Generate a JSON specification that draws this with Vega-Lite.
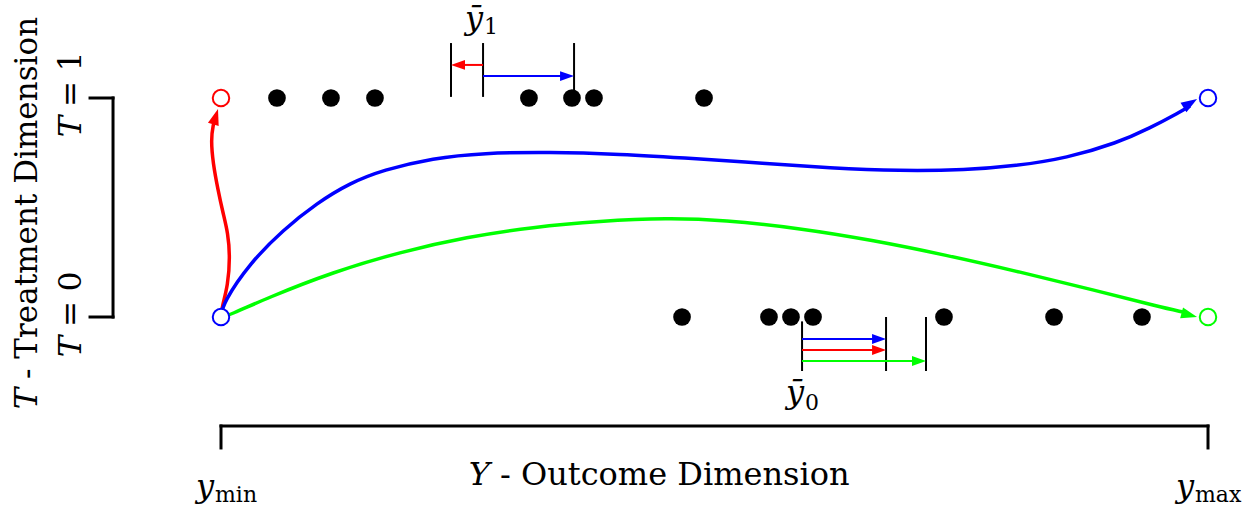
{
  "$schema": "https://vega.github.io/schema/vega-lite/v6.json",
  "width": 1254,
  "height": 509,
  "padding": 0,
  "autosize": {"type": "none"},
  "background": "white",
  "config": {"view": {"stroke": null}},
  "datasets": {
    "curves": [
      {"path": "T shift", "i": 1, "x": 0.0, "t": 0.0},
      {"path": "T shift", "i": 2, "x": 0.101, "t": 0.0457},
      {"path": "T shift", "i": 3, "x": 0.709, "t": 0.1461},
      {"path": "T shift", "i": 4, "x": 0.912, "t": 0.274},
      {"path": "T shift", "i": 5, "x": 0.709, "t": 0.3836},
      {"path": "T shift", "i": 6, "x": 0.203, "t": 0.4749},
      {"path": "T shift", "i": 7, "x": -0.304, "t": 0.5799},
      {"path": "T shift", "i": 8, "x": -0.811, "t": 0.7032},
      {"path": "T shift", "i": 9, "x": -1.013, "t": 0.8082},
      {"path": "T shift", "i": 10, "x": -0.811, "t": 0.8767},
      {"path": "T shift", "i": 11, "x": -0.507, "t": 0.9224},
      {"path": "both", "i": 1, "x": 0.0, "t": 0.0},
      {"path": "both", "i": 2, "x": 0.203, "t": 0.0639},
      {"path": "both", "i": 3, "x": 2.938, "t": 0.2466},
      {"path": "both", "i": 4, "x": 6.282, "t": 0.3973},
      {"path": "both", "i": 5, "x": 9.726, "t": 0.5205},
      {"path": "both", "i": 6, "x": 13.07, "t": 0.6119},
      {"path": "both", "i": 7, "x": 16.41, "t": 0.6712},
      {"path": "both", "i": 8, "x": 21.48, "t": 0.726},
      {"path": "both", "i": 9, "x": 26.55, "t": 0.7489},
      {"path": "both", "i": 10, "x": 33.33, "t": 0.7534},
      {"path": "both", "i": 11, "x": 40.12, "t": 0.7443},
      {"path": "both", "i": 12, "x": 48.53, "t": 0.7215},
      {"path": "both", "i": 13, "x": 54.71, "t": 0.7032},
      {"path": "both", "i": 14, "x": 61.7, "t": 0.6804},
      {"path": "both", "i": 15, "x": 68.79, "t": 0.6667},
      {"path": "both", "i": 16, "x": 75.5, "t": 0.6712},
      {"path": "both", "i": 17, "x": 80.5, "t": 0.6895},
      {"path": "both", "i": 18, "x": 85.71, "t": 0.7260},
      {"path": "both", "i": 19, "x": 90.78, "t": 0.7945},
      {"path": "both", "i": 20, "x": 94.12, "t": 0.8630},
      {"path": "both", "i": 21, "x": 97.16, "t": 0.9361},
      {"path": "both", "i": 22, "x": 98.18, "t": 0.9635},
      {"path": "Y shift", "i": 1, "x": 0.0, "t": 0.0},
      {"path": "Y shift", "i": 2, "x": 0.912, "t": 0.0091},
      {"path": "Y shift", "i": 3, "x": 4.661, "t": 0.0868},
      {"path": "Y shift", "i": 4, "x": 11.35, "t": 0.2055},
      {"path": "Y shift", "i": 5, "x": 18.14, "t": 0.2968},
      {"path": "Y shift", "i": 6, "x": 24.92, "t": 0.3653},
      {"path": "Y shift", "i": 7, "x": 31.61, "t": 0.411},
      {"path": "Y shift", "i": 8, "x": 38.4, "t": 0.4384},
      {"path": "Y shift", "i": 9, "x": 45.19, "t": 0.4521},
      {"path": "Y shift", "i": 10, "x": 50.96, "t": 0.4430},
      {"path": "Y shift", "i": 11, "x": 58.46, "t": 0.4064},
      {"path": "Y shift", "i": 12, "x": 65.96, "t": 0.3516},
      {"path": "Y shift", "i": 13, "x": 73.45, "t": 0.2831},
      {"path": "Y shift", "i": 14, "x": 80.95, "t": 0.2055},
      {"path": "Y shift", "i": 15, "x": 88.45, "t": 0.1233},
      {"path": "Y shift", "i": 16, "x": 95.14, "t": 0.0457},
      {"path": "Y shift", "i": 17, "x": 97.47, "t": 0.0228}
    ],
    "bigheads": [
      {"path": "T shift", "x": -0.304, "t": 0.9498, "heading": -73},
      {"path": "both", "x": 98.89, "t": 0.9954, "heading": -32},
      {"path": "Y shift", "x": 98.89, "t": 0.0, "heading": 15}
    ],
    "smallheads": [
      {"path": "T shift", "x": 23.3, "t": 1.151, "heading": 180},
      {"path": "both", "x": 35.77, "t": 1.1, "heading": 0},
      {"path": "both", "x": 67.38, "t": -0.1005, "heading": 0},
      {"path": "T shift", "x": 67.38, "t": -0.1507, "heading": 0},
      {"path": "Y shift", "x": 71.43, "t": -0.2009, "heading": 0}
    ],
    "shifts": [
      {"path": "T shift", "x": 26.55, "x2": 23.8, "t": 1.151, "t2": 1.151},
      {"path": "both", "x": 26.55, "x2": 35.27, "t": 1.1, "t2": 1.1},
      {"path": "both", "x": 58.87, "x2": 66.88, "t": -0.1005, "t2": -0.1005},
      {"path": "T shift", "x": 58.87, "x2": 66.88, "t": -0.1507, "t2": -0.1507},
      {"path": "Y shift", "x": 58.87, "x2": 70.93, "t": -0.2009, "t2": -0.2009}
    ],
    "markers": [
      {"x": 23.3, "x2": 23.3, "t": 1.005, "t2": 1.251},
      {"x": 26.55, "x2": 26.55, "t": 1.005, "t2": 1.251},
      {"x": 35.77, "x2": 35.77, "t": 1.005, "t2": 1.251},
      {"x": 58.87, "x2": 58.87, "t": -0.02, "t2": -0.2466},
      {"x": 67.38, "x2": 67.38, "t": 0.0, "t2": -0.2466},
      {"x": 71.43, "x2": 71.43, "t": 0.0, "t2": -0.2466}
    ],
    "brackets": [
      {"x": 0, "x2": 100, "t": -0.4977, "t2": -0.4977},
      {"x": 0, "x2": 0, "t": -0.4977, "t2": -0.598},
      {"x": 100, "x2": 100, "t": -0.4977, "t2": -0.598},
      {"x": -10.94, "x2": -10.94, "t": 0, "t2": 1},
      {"x": -13.27, "x2": -10.94, "t": 0, "t2": 0},
      {"x": -13.27, "x2": -10.94, "t": 1, "t2": 1}
    ],
    "dots": [
      {"x": 5.67, "t": 1}, {"x": 11.14, "t": 1}, {"x": 15.6, "t": 1},
      {"x": 31.2, "t": 1}, {"x": 35.56, "t": 1}, {"x": 37.79, "t": 1},
      {"x": 48.94, "t": 1},
      {"x": 46.71, "t": 0}, {"x": 55.52, "t": 0}, {"x": 57.75, "t": 0},
      {"x": 59.98, "t": 0}, {"x": 73.25, "t": 0}, {"x": 84.4, "t": 0},
      {"x": 93.31, "t": 0}
    ],
    "ends": [
      {"path": "T shift", "x": 0, "t": 1},
      {"path": "both", "x": 0, "t": 0},
      {"path": "both", "x": 100, "t": 1},
      {"path": "Y shift", "x": 100, "t": 0}
    ],
    "labels": [
      {"role": "ital", "text": "Y", "x": 27.25, "t": -0.767},
      {"role": "ital", "text": "y", "x": -0.709, "t": -0.822},
      {"role": "ital", "text": "y", "x": 98.58, "t": -0.822},
      {"role": "ital", "text": "ȳ", "x": 26.55, "t": 1.315},
      {"role": "ital", "text": "ȳ", "x": 59.07, "t": -0.393},
      {"role": "roman", "text": "- Outcome Dimension", "x": 27.25, "t": -0.767},
      {"role": "sub", "text": "min", "x": -0.709, "t": -0.845},
      {"role": "sub", "text": "max", "x": 98.58, "t": -0.845},
      {"role": "sub", "text": "1", "x": 26.55, "t": 1.293},
      {"role": "sub", "text": "0", "x": 59.07, "t": -0.425},
      {"role": "rital", "text": "T", "x": -18.64, "t": -0.324},
      {"role": "rital", "text": "T", "x": -14.18, "t": 0.918},
      {"role": "rital", "text": "T", "x": -14.18, "t": -0.0868},
      {"role": "rroman", "text": "- Treatment Dimension", "x": -18.64, "t": -0.324},
      {"role": "rroman", "text": "= 1", "x": -14.18, "t": 0.918},
      {"role": "rroman", "text": "= 0", "x": -14.18, "t": -0.0868}
    ]
  },
  "encoding": {
    "x": {"field": "x", "type": "quantitative", "axis": null,
          "scale": {"domain": [-22.391, 104.66], "nice": false, "zero": false}},
    "y": {"field": "t", "type": "quantitative", "axis": null,
          "scale": {"domain": [-0.8767, 1.4475], "nice": false, "zero": false}}
  },
  "layer": [
    {
      "data": {"name": "curves"},
      "mark": {"type": "line", "strokeWidth": 3.5, "interpolate": "basis"},
      "encoding": {
        "color": {"field": "path", "type": "nominal", "legend": null,
                  "scale": {"domain": ["T shift", "both", "Y shift"], "range": ["#ff0000", "#0000ff", "#00ff00"]}},
        "order": {"field": "i", "type": "quantitative"}
      }
    },
    {
      "data": {"name": "bigheads"},
      "mark": {"type": "point", "shape": "M0,0L-2,-0.7L-2,0.7Z", "size": 256, "filled": true, "opacity": 1, "strokeWidth": 0},
      "encoding": {
        "color": {"field": "path", "type": "nominal", "legend": null,
                  "scale": {"domain": ["T shift", "both", "Y shift"], "range": ["#ff0000", "#0000ff", "#00ff00"]}},
        "angle": {"field": "heading", "type": "quantitative", "scale": null}
      }
    },
    {
      "data": {"name": "brackets"},
      "mark": {"type": "rule", "strokeWidth": 3, "color": "black", "strokeCap": "square"},
      "encoding": {
        "x2": {"field": "x2"},
        "y2": {"field": "t2"}
      }
    },
    {
      "data": {"name": "markers"},
      "mark": {"type": "rule", "strokeWidth": 2, "color": "black"},
      "encoding": {
        "x2": {"field": "x2"},
        "y2": {"field": "t2"}
      }
    },
    {
      "data": {"name": "shifts"},
      "mark": {"type": "rule", "strokeWidth": 2},
      "encoding": {
        "x2": {"field": "x2"},
        "y2": {"field": "t2"},
        "color": {"field": "path", "type": "nominal", "legend": null,
                  "scale": {"domain": ["T shift", "both", "Y shift"], "range": ["#ff0000", "#0000ff", "#00ff00"]}}
      }
    },
    {
      "data": {"name": "smallheads"},
      "mark": {"type": "point", "shape": "M0,0L-2,-0.7L-2,0.7Z", "size": 196, "filled": true, "opacity": 1, "strokeWidth": 0},
      "encoding": {
        "color": {"field": "path", "type": "nominal", "legend": null,
                  "scale": {"domain": ["T shift", "both", "Y shift"], "range": ["#ff0000", "#0000ff", "#00ff00"]}},
        "angle": {"field": "heading", "type": "quantitative", "scale": null}
      }
    },
    {
      "data": {"name": "dots"},
      "mark": {"type": "point", "shape": "circle", "size": 314, "filled": true, "color": "black", "opacity": 1, "strokeWidth": 0}
    },
    {
      "data": {"name": "ends"},
      "mark": {"type": "point", "shape": "circle", "size": 272, "filled": true, "fill": "white", "opacity": 1, "strokeWidth": 2},
      "encoding": {
        "stroke": {"field": "path", "type": "nominal", "legend": null,
                   "scale": {"domain": ["T shift", "both", "Y shift"], "range": ["#ff0000", "#0000ff", "#00ff00"]}}
      }
    },
    {
      "data": {"name": "labels"},
      "transform": [{"filter": "datum.role === 'ital'"}],
      "mark": {"type": "text", "font": "DejaVu Serif", "fontSize": 32, "fontStyle": "italic", "align": "right", "baseline": "alphabetic", "color": "black"},
      "encoding": {"text": {"field": "text"}}
    },
    {
      "data": {"name": "labels"},
      "transform": [{"filter": "datum.role === 'roman'"}],
      "mark": {"type": "text", "font": "DejaVu Serif", "fontSize": 32, "align": "left", "baseline": "alphabetic", "dx": 10, "color": "black"},
      "encoding": {"text": {"field": "text"}}
    },
    {
      "data": {"name": "labels"},
      "transform": [{"filter": "datum.role === 'sub'"}],
      "mark": {"type": "text", "font": "DejaVu Serif", "fontSize": 22, "align": "left", "baseline": "alphabetic", "dx": 1, "color": "black"},
      "encoding": {"text": {"field": "text"}}
    },
    {
      "data": {"name": "labels"},
      "transform": [{"filter": "datum.role === 'rital'"}],
      "mark": {"type": "text", "font": "DejaVu Serif", "fontSize": 32, "fontStyle": "italic", "align": "right", "baseline": "alphabetic", "angle": 270, "color": "black"},
      "encoding": {"text": {"field": "text"}}
    },
    {
      "data": {"name": "labels"},
      "transform": [{"filter": "datum.role === 'rroman'"}],
      "mark": {"type": "text", "font": "DejaVu Serif", "fontSize": 31, "align": "left", "baseline": "alphabetic", "angle": 270, "dx": 9, "color": "black"},
      "encoding": {"text": {"field": "text"}}
    }
  ]
}
